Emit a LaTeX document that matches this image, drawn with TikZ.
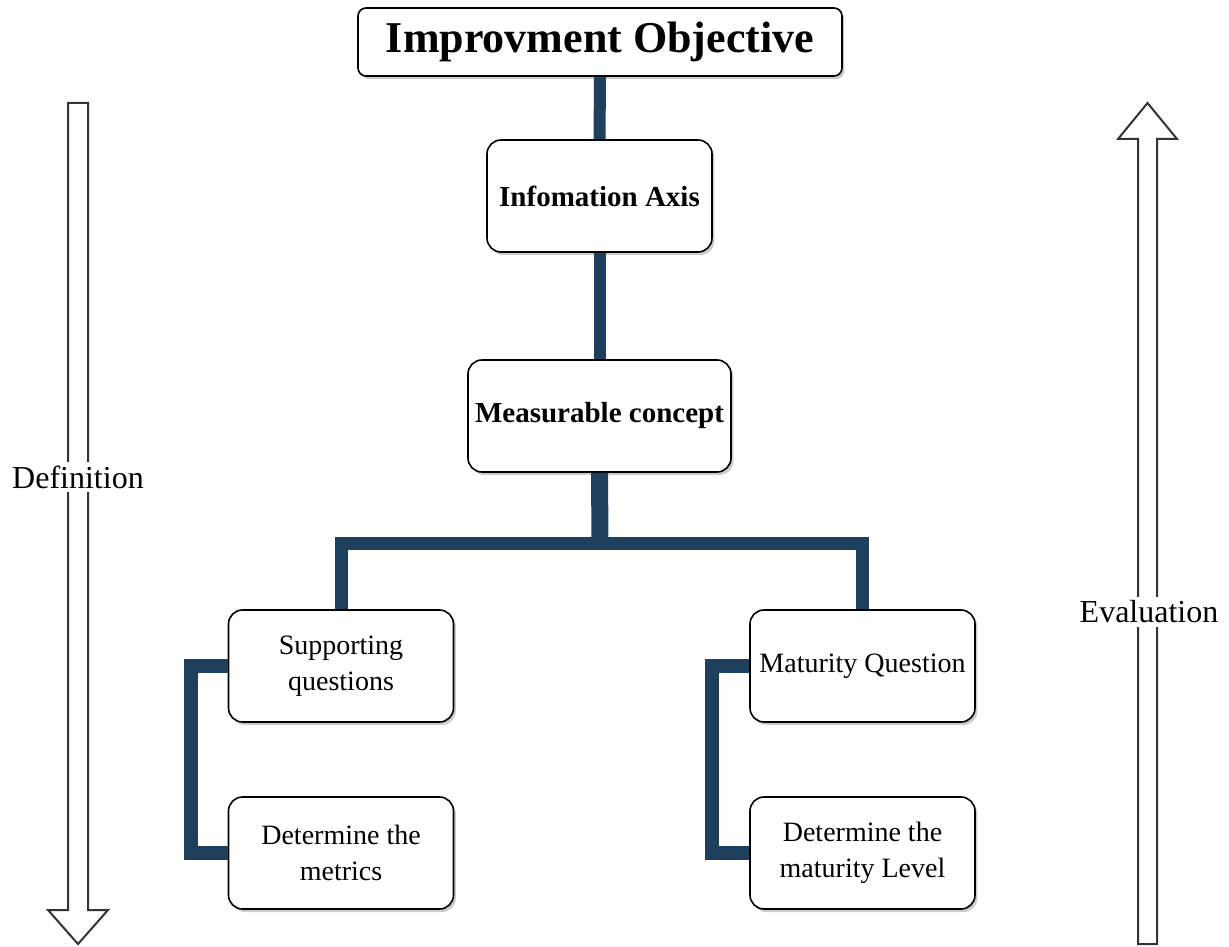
\documentclass[tikz,border=0pt]{standalone}
\usepackage{fontspec}
\setmainfont{Liberation Serif}
\usetikzlibrary{shadows}
\definecolor{darkblue}{RGB}{31,64,92}

\begin{document}
\begin{tikzpicture}[x=0.5pt,y=-0.5pt,
  box/.style={draw,thick,fill=white,rounded corners=7pt,align=center,
    minimum width=112.5pt,minimum height=56pt,inner sep=1pt,
    drop shadow={shadow xshift=1.2pt,shadow yshift=-1.5pt,fill=black!40,opacity=0.5},
    font=\fontsize{14}{18}\selectfont},
  conn/.style={darkblue,line width=6.5pt},
  bigarrow/.style={draw=black!80,line width=1pt,fill=white},
  sidelabel/.style={fill=white,inner sep=2pt,font=\fontsize{16}{19}\selectfont}]
\useasboundingbox (0,0) rectangle (1229,946);
% boxes
\node [box,rounded corners=4pt,minimum width=242pt,minimum height=34pt,
  font=\fontsize{22}{26}\bfseries] (goal) at (600,42) {Improvment Objective};
\node [box,font=\fontsize{14.5}{18}\bfseries] (axis) at (599.5,196) {Infomation Axis};
\node [box,minimum width=131.5pt,font=\fontsize{14.5}{18}\bfseries] (concept) at (599.5,416) {Measurable concept};
\node [box] (supq) at (341,666) {Supporting\\questions};
\node [box] (metr) at (341,853) {Determine the\\metrics};
\node [box] (matq) at (862.5,666) {Maturity Question};
\node [box] (matl) at (862.5,853) {Determine the\\maturity Level};
\coordinate (bar) at (600,543);
% connectors
\draw [conn,line width=6pt] (goal.south) -- (axis.north);
\draw [conn,line width=6pt] (axis.south) -- (concept.north);
\draw [conn,line width=8.5pt] (concept.south) -- (bar);
\draw [conn] (supq.north) |- (bar) -| (matq.north);
\draw [conn,line width=7pt] (supq.west) -- ++(-37,0) |- (metr.west);
\draw [conn,line width=7pt] (matq.west) -- ++(-37,0) |- (matl.west);
% side arrows
\draw [bigarrow] (68,103) -- (88,103) -- (88,910) -- (108,910) -- (78,944)
  -- (48,910) -- (68,910) -- cycle;
\draw [bigarrow] (1138,944) -- (1157,944) -- (1157,139) -- (1177,139)
  -- (1147.5,103) -- (1118,139) -- (1138,139) -- cycle;
\node [sidelabel] (defn) at (78,477) {Definition};
\node [sidelabel] (evalu) at (1149,612) {Evaluation};
\end{tikzpicture}
\end{document}
